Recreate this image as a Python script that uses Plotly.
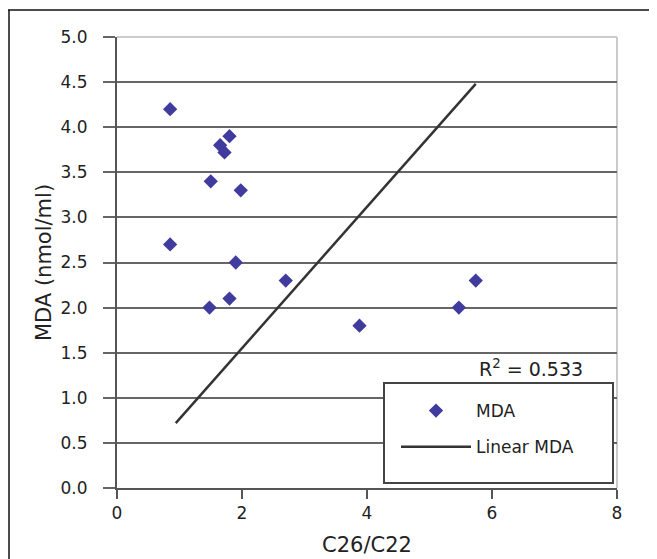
import plotly.graph_objects as go

# data
ratio_c26_c22 = [0.85, 0.85, 1.5, 1.65, 1.72, 1.8, 1.98, 1.9, 1.8, 1.48, 2.7, 3.88, 5.47, 5.74]
mda_nmol_ml = [4.2, 2.7, 3.4, 3.8, 3.72, 3.9, 3.3, 2.5, 2.1, 2.0, 2.3, 1.8, 2.0, 2.3]
trend_x = [0.94, 5.74]
trend_y = [0.72, 4.48]
r2_text = "R<sup>2</sup> = 0.533"

FONT = "DejaVu Sans"
OFF = 8  # page body margin
W, H = 657 - OFF, 559 - OFF
L, R, T, B = 117 - OFF, 40, 37 - OFF, 71
pw, ph = W - L - R, H - T - B

def px_x(p):
    # window pixel -> paper x
    return (p - OFF - L) / pw

def px_y(p):
    # window pixel -> paper y
    return (H - B - (p - OFF)) / ph

fig = go.Figure()
fig.add_trace(go.Scatter(
    x=ratio_c26_c22, y=mda_nmol_ml, mode="markers", name="MDA",
    marker=dict(symbol="diamond", size=11, color="#3f3c9e"),
    legendgroup="a",
))
fig.add_trace(go.Scatter(
    x=trend_x, y=trend_y, mode="lines", name="Linear MDA",
    line=dict(color="#333333", width=2.5),
    legendgroup="b",
))

shapes = [
    # legend box
    dict(type="rect", xref="paper", yref="paper", x0=px_x(384), x1=px_x(613),
         y0=px_y(483), y1=px_y(383), line=dict(color="#444", width=2),
         fillcolor="white", layer="above"),
    # right border of plot
    dict(type="line", xref="paper", yref="paper", x0=1, x1=1, y0=0, y1=1,
         line=dict(color="#bbbbbb", width=1.5), layer="below"),
    # top border of plot
    dict(type="line", xref="paper", yref="paper", x0=0, x1=1, y0=1, y1=1,
         line=dict(color="#bbbbbb", width=1.5), layer="above"),
    # outer frame (top and left)
    dict(type="line", xref="paper", yref="paper", x0=px_x(8), x1=px_x(660),
         y0=px_y(10), y1=px_y(10), line=dict(color="#111", width=1.5)),
    dict(type="line", xref="paper", yref="paper", x0=px_x(9), x1=px_x(9),
         y0=px_y(10), y1=px_y(562), line=dict(color="#111", width=1.5)),
]

fig.update_layout(
    width=W, height=H,
    margin=dict(l=L, r=R, t=T, b=B, autoexpand=False),
    paper_bgcolor="white", plot_bgcolor="white",
    font=dict(family=FONT, size=17, color="#222"),
    showlegend=True,
    legend=dict(
        x=px_x(396), y=px_y(393), xanchor="left", yanchor="top",
        bgcolor="rgba(0,0,0,0)", borderwidth=0,
        font=dict(family=FONT, size=17, color="#222"),
        itemwidth=70, tracegroupgap=11, traceorder="grouped",
    ),
    shapes=shapes,
    annotations=[dict(
        text=r2_text, xref="paper", yref="paper", x=px_x(477), y=px_y(368),
        xanchor="left", yanchor="middle", showarrow=False,
        font=dict(family=FONT, size=19, color="#222"),
    )],
)

fig.update_xaxes(
    range=[0, 8], dtick=2, tick0=0, showgrid=False, zeroline=False,
    showline=True, linecolor="#555", linewidth=2,
    ticks="outside", ticklen=9, tickwidth=2, tickcolor="#555",
    tickfont=dict(family=FONT, size=17, color="#222"),
    title=dict(text="C26/C22", font=dict(family=FONT, size=21, color="#222"), standoff=15),
)
fig.update_yaxes(
    range=[0, 5], dtick=0.5, tick0=0, tickformat=".1f",
    showgrid=True, gridcolor="#666", gridwidth=1.5, zeroline=False,
    showline=True, linecolor="#555", linewidth=2,
    ticks="outside", ticklen=12, tickwidth=2, tickcolor="#666",
    ticklabelstandoff=12,
    tickfont=dict(family=FONT, size=17, color="#222"),
    title=dict(text="MDA (nmol/ml)", font=dict(family=FONT, size=21, color="#222"), standoff=3),
)

fig.write_html("out.html")
